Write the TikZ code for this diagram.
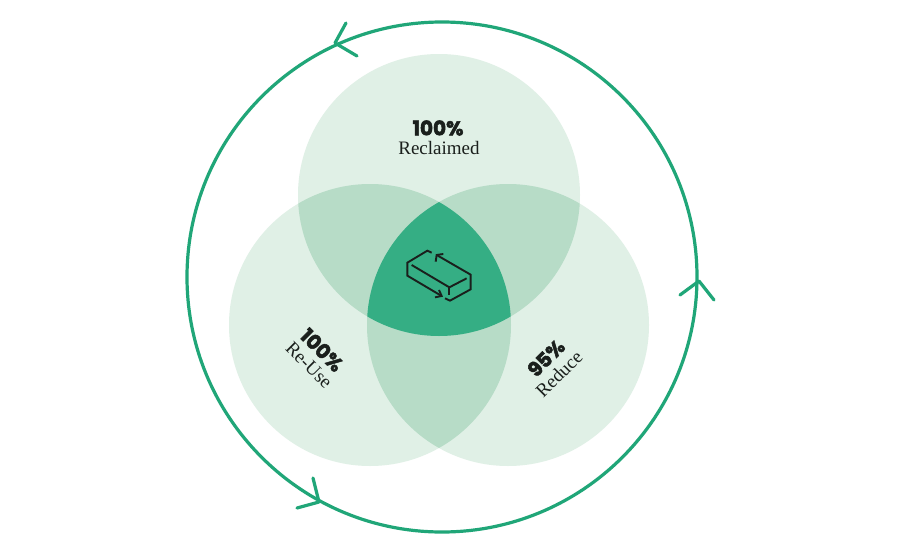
\documentclass[tikz,border=0pt]{standalone}
\usepackage{fontspec}
\setmainfont{Liberation Serif}
\newfontfamily\heavy[BoldFont=Poppins Bold,BoldFeatures={FakeBold=2.5}]{Poppins}
\definecolor{ringgreen}{HTML}{20A678}
\definecolor{one}{HTML}{E0F0E6}
\definecolor{two}{HTML}{B7DCC7}
\definecolor{three}{HTML}{35AE84}
\definecolor{ink}{HTML}{1A1F1C}
\tikzset{
  ring/.style={draw=ringgreen,line width=3.2pt,line cap=round,line join=round},
  icon/.style={draw=ink,line width=1.9pt,line cap=butt,line join=miter},
  pct/.style={font=\heavy\bfseries\fontsize{20}{20}\selectfont,text=ink,inner sep=0pt},
  lbl/.style={font=\fontsize{19}{19}\selectfont,text=ink,inner sep=0pt}
}
\begin{document}
\begin{tikzpicture}[x=1pt,y=-1pt]
\useasboundingbox (0,0) rectangle (900,554);
\fill[white] (0,0) rectangle (900,554);
\def\rr{141}
\fill[one] (439,195) circle[radius=\rr];
\fill[one] (370,325) circle[radius=\rr];
\fill[one] (508,325) circle[radius=\rr];
\begin{scope}
  \clip (439,195) circle[radius=\rr];
  \fill[two] (370,325) circle[radius=\rr];
  \fill[two] (508,325) circle[radius=\rr];
\end{scope}
\begin{scope}
  \clip (370,325) circle[radius=\rr];
  \fill[two] (508,325) circle[radius=\rr];
  \clip (508,325) circle[radius=\rr];
  \fill[three] (439,195) circle[radius=\rr];
\end{scope}
% ring and arrows
\draw[ring] (442,277) circle[radius=255];
\draw[ring] (346,23) -- (335,43) -- (357,56);
\draw[ring] (680,295) -- (699,281) -- (714,300);
\draw[ring] (313,478) -- (319,502) -- (297,508);
% icon
\begin{scope}[shift={(370,210)},x=0.3333pt,y=-0.3333pt]
  \draw[icon] (185,128) -- (172,122) -- (112,158) -- (112,197) -- (215,258);
  \draw[icon] (195,262) -- (215,258) -- (207,240);
  \draw[icon] (125,165) -- (238,232) -- (290,205);
  \draw[icon] (238,232) -- (238,256);
  \draw[icon] (225,265) -- (240,272) -- (302,238) -- (302,194) -- (200,135);
  \draw[icon] (197,155) -- (200,135) -- (220,132);
\end{scope}
% labels
\node[pct] (a1) at (438,128) {100\%};
\node[lbl] (a2) at (439,148) {Reclaimed};
\node[pct,rotate=-45] (b1) at (322,350) {100\%};
\node[lbl,rotate=-45] (b2) at (309,365) {Re-Use};
\node[pct,rotate=45] (c1) at (546,358) {95\%};
\node[lbl,rotate=45] (c2) at (559,374) {Reduce};
\end{tikzpicture}
\end{document}
